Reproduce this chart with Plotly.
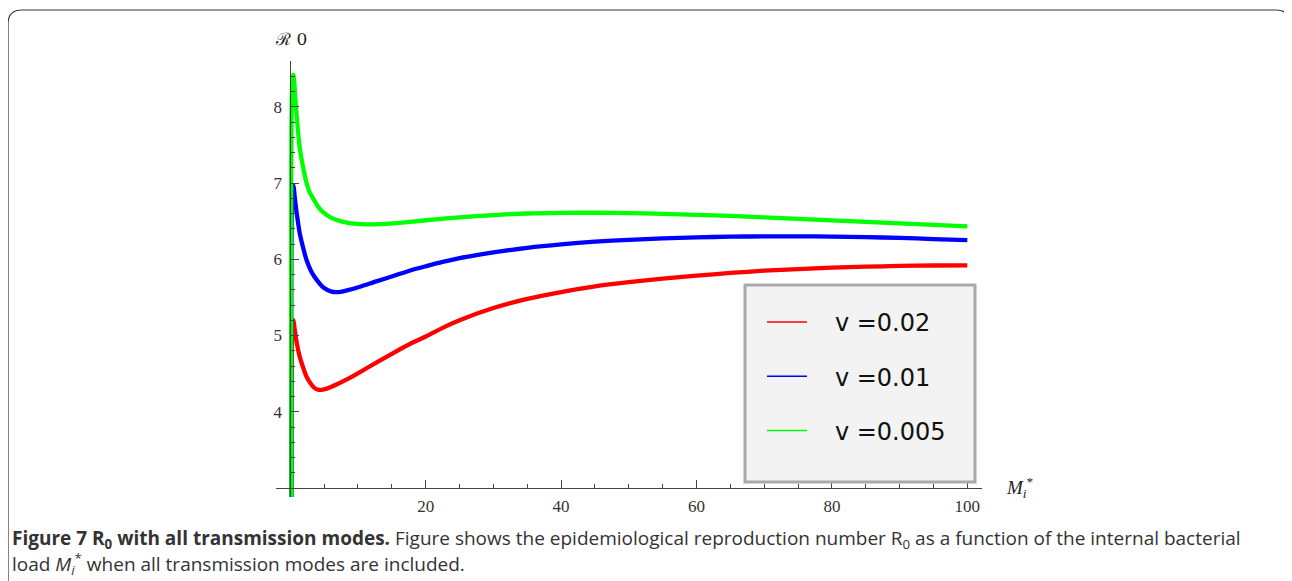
import plotly.graph_objects as go

# ---------------- data ----------------
x_red = [0.2, 0.3, 0.45, 0.7, 1.0, 1.4, 1.9, 2.4, 3.0, 3.6, 4.1, 4.8, 5.6, 6.9, 8.5, 10.3, 12.7, 15.2,
         17.6, 20.1, 22.5, 25, 30, 35, 40, 45, 50, 55, 60, 65, 70, 75, 80, 85, 90, 95, 100]
y_red = [2.5, 5.1, 5.20, 5.05, 4.88, 4.72, 4.58, 4.46, 4.37, 4.31, 4.29, 4.29, 4.31, 4.36, 4.43, 4.52, 4.645, 4.77,
         4.885, 4.99, 5.10, 5.20, 5.36, 5.48, 5.57, 5.645, 5.70, 5.745, 5.785, 5.82, 5.85, 5.87, 5.89, 5.903,
         5.912, 5.918, 5.92]

x_blue = [0.2, 0.3, 0.45, 0.7, 1.0, 1.4, 1.9, 2.4, 3.1, 3.9, 4.9, 6.1, 7.2, 8.5, 10.3, 12.7, 15.2, 17.6, 20.1,
          22.5, 25, 27.5, 30, 35, 40, 45, 50, 55, 60, 65, 70, 75, 80, 85, 90, 95, 100]
y_blue = [2.5, 6.9, 6.97, 6.78, 6.57, 6.34, 6.15, 5.99, 5.84, 5.73, 5.63, 5.575, 5.57, 5.595, 5.64, 5.71, 5.78,
          5.85, 5.91, 5.965, 6.015, 6.055, 6.09, 6.15, 6.195, 6.23, 6.255, 6.273, 6.287, 6.296, 6.30, 6.30, 6.297,
          6.29, 6.28, 6.265, 6.25]

x_green = [0.2, 0.3, 0.45, 0.6, 0.8, 1.1, 1.4, 1.9, 2.4, 2.9, 3.5, 4.1, 4.8, 6.0, 7.8, 10.3, 14, 17.7, 21, 25,
           30, 35, 40, 45, 50, 55, 60, 65, 70, 75, 80, 85, 90, 95, 100]
y_green = [2.5, 8.35, 8.42, 8.3, 8.05, 7.72, 7.46, 7.2, 7.0, 6.87, 6.78, 6.69, 6.62, 6.545, 6.49, 6.46, 6.465,
           6.49, 6.52, 6.55, 6.58, 6.60, 6.608, 6.61, 6.605, 6.595, 6.583, 6.568, 6.55, 6.53, 6.51, 6.49, 6.47,
           6.45, 6.43]

series_names = ["v =0.02", "v =0.01", "v =0.005"]
series_colors = ["#ff0000", "#0000ff", "#00ff00"]

x_tickvals = [20, 40, 60, 80, 100]
y_tickvals = [4, 5, 6, 7, 8]

caption_line1 = ("<b>Figure 7 R<sub>0</sub> with all transmission modes.</b> Figure shows the epidemiological "
                 "reproduction number R<sub>0</sub> as a function of the internal bacterial")
caption_line2 = "load <i>M</i><sub><i>i</i></sub><sup>*</sup> when all transmission modes are included."

# ---------------- layout geometry ----------------
# page body has an 8px margin, so the figure is 8px smaller than the window
W, H = 1284, 573
ML, MR, MT, MB = 268, 310, 53, 84
PW = W - ML - MR
PH = H - MT - MB
XR = [-2.11, 102.17]
YR = [2.882, 8.60]


def px(xp):  # screen x (window px) -> paper
    return (xp - 8 - ML) / PW


def py(yp):  # screen y (window px) -> paper
    return (H - MB - (yp - 8)) / PH


fig = go.Figure()
xs = [x_red, x_blue, x_green]
ys = [y_red, y_blue, y_green]
for xv, yv, c in zip(xs, ys, series_colors):
    fig.add_trace(go.Scatter(x=xv, y=yv, mode="lines", showlegend=False,
                             line=dict(color=c, width=4.3, shape="spline", smoothing=0.7),
                             hoverinfo="skip"))
for i, (n, c) in enumerate(zip(series_names, series_colors)):
    fig.add_trace(go.Scatter(x=[None], y=[None], mode="lines", name="   " + n,
                             legendgroup=str(i),
                             line=dict(color=c, width=1.5)))

axis_color = "#444444"
tick_font = dict(family="Liberation Serif", size=17, color="#333333")
fig.update_layout(
    width=W, height=H,
    margin=dict(l=ML, r=MR, t=MT, b=MB),
    paper_bgcolor="white", plot_bgcolor="white",
    font=dict(family="Liberation Serif", color="#222222", size=16),
    xaxis=dict(range=XR, showgrid=False, zeroline=False, showline=True, linecolor=axis_color, linewidth=1,
               anchor="free", position=(3 - YR[0]) / (YR[1] - YR[0]),
               tickmode="array", tickvals=x_tickvals, ticks="inside", ticklen=8, tickcolor=axis_color,
               ticklabelstandoff=3, tickfont=tick_font,
               minor=dict(dtick=5, tick0=0, ticks="inside", ticklen=4, tickcolor=axis_color)),
    yaxis=dict(range=YR, showgrid=False, zeroline=False, showline=True, linecolor=axis_color, linewidth=1,
               anchor="free", position=(0 - XR[0]) / (XR[1] - XR[0]),
               tickmode="array", tickvals=y_tickvals, ticks="inside", ticklen=8, tickcolor=axis_color,
               ticklabelstandoff=5, tickfont=tick_font,
               minor=dict(dtick=0.2, tick0=0, ticks="inside", ticklen=4, tickcolor=axis_color)),
    legend=dict(x=px(762), y=py(300), xanchor="left", yanchor="top",
                bgcolor="rgba(0,0,0,0)", borderwidth=0,
                font=dict(family="DejaVu Sans", size=24, color="#111111"),
                itemwidth=40, traceorder="grouped", tracegroupgap=20),
    shapes=[
        dict(type="rect", xref="paper", yref="paper", x0=px(745), x1=px(975), y0=py(482), y1=py(285),
             fillcolor="#f3f3f3", line=dict(color="#aaaaaa", width=3), layer="above"),
        dict(type="path", xref="paper", yref="paper",
             path=(f"M {px(8)},{py(581)} L {px(8)},{py(24)} Q {px(8)},{py(10)} {px(22)},{py(10)} "
                   f"L {px(1276)},{py(10)} Q {px(1290)},{py(10)} {px(1290)},{py(24)} L {px(1290)},{py(581)}"),
             line=dict(color="#333333", width=1.2)),
    ],
    annotations=[
        dict(text="ℛ 0", xref="paper", yref="paper", x=px(291), y=py(39), showarrow=False,
             xanchor="center", yanchor="middle", font=dict(family="DejaVu Serif", size=17, color="#222222")),
        dict(text="<i>M</i><sub><i>i</i></sub><sup>*</sup>", xref="paper", yref="paper", x=px(1004), y=py(487),
             showarrow=False, xanchor="left", yanchor="middle",
             font=dict(family="Liberation Serif", size=19, color="#222222")),
        dict(text=caption_line1, xref="paper", yref="paper", x=px(10), y=py(539), showarrow=False,
             xanchor="left", yanchor="middle", font=dict(family="Open Sans", size=19, color="#333333")),
        dict(text=caption_line2, xref="paper", yref="paper", x=px(10), y=py(564), showarrow=False,
             xanchor="left", yanchor="middle", font=dict(family="Open Sans", size=19, color="#333333")),
    ],
)

fig.write_html("out.html")
